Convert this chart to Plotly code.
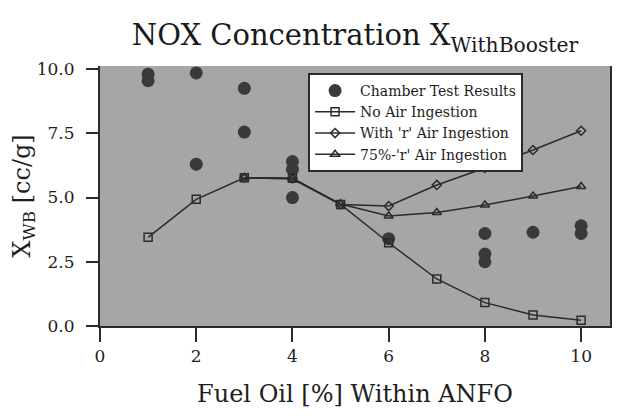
import plotly.graph_objects as go

# ── Data ────────────────────────────────────────────────────────
chamber_x = [1, 1, 2, 2, 3, 3, 4, 4, 4, 6, 8, 8, 8, 9, 10, 10]
chamber_y = [9.8, 9.55, 9.85, 6.3, 9.25, 7.55, 6.4, 6.1, 5.0, 3.4, 3.6, 2.8, 2.5, 3.65, 3.9, 3.6]

no_air_x = [1, 2, 3, 4, 5, 6, 7, 8, 9, 10]
no_air_y = [3.45, 4.93, 5.77, 5.75, 4.73, 3.24, 1.83, 0.91, 0.43, 0.22]

with_r_x = [3, 4, 5, 6, 7, 8, 9, 10]
with_r_y = [5.77, 5.75, 4.73, 4.67, 5.49, 6.15, 6.85, 7.6]

r75_x = [3, 4, 5, 6, 7, 8, 9, 10]
r75_y = [5.77, 5.72, 4.75, 4.28, 4.42, 4.71, 5.06, 5.43]

x_ticks = [0, 2, 4, 6, 8, 10]
y_ticks = [0, 2.5, 5, 7.5, 10]
y_tick_labels = ["0.0", "2.5", "5.0", "7.5", "10.0"]

FONT = "DejaVu Serif"
INK = "#2b2b2b"

fig = go.Figure()

fig.add_trace(go.Scatter(
    x=chamber_x, y=chamber_y, mode="markers", name="Chamber Test Results",
    marker=dict(symbol="circle", size=13, color="#3a3a3a"),
))
fig.add_trace(go.Scatter(
    x=no_air_x, y=no_air_y, mode="lines+markers", name="No Air Ingestion",
    line=dict(color=INK, width=1.5),
    marker=dict(symbol="square-open", size=8, color=INK, line=dict(width=1.5)),
))
fig.add_trace(go.Scatter(
    x=with_r_x, y=with_r_y, mode="lines+markers", name="With 'r' Air Ingestion",
    line=dict(color=INK, width=1.5),
    marker=dict(symbol="diamond-open", size=7, color=INK, line=dict(width=1.5)),
))
fig.add_trace(go.Scatter(
    x=r75_x, y=r75_y, mode="lines+markers", name="75%-'r' Air Ingestion",
    line=dict(color=INK, width=1.5),
    marker=dict(symbol="triangle-up-open", size=8, color=INK, line=dict(width=1.5)),
))

# page body adds ~8px offset, so the figure is sized 8px smaller
fig.update_layout(
    width=617, height=408,
    margin=dict(l=92, r=15, t=58, b=90, autoexpand=False),
    paper_bgcolor="white",
    plot_bgcolor="#a6a6a6",
    font=dict(family=FONT, color="#1e1e1e", size=14),
    title=dict(
        text="NOX Concentration X<sub>WithBooster</sub>",
        x=0.5, xref="paper", xanchor="center", y=0.933, yanchor="middle",
        font=dict(family=FONT, size=29, color="#1a1a1a"),
    ),
    legend=dict(
        x=0.408, y=0.973, xanchor="left", yanchor="top",
        bgcolor="white", bordercolor=INK, borderwidth=2,
        font=dict(family=FONT, size=14, color="#1e1e1e"),
        tracegroupgap=0, itemwidth=40,
    ),
    showlegend=True,
)

fig.update_xaxes(
    range=[0, 10.6], tickvals=x_ticks, ticks="outside", ticklen=14,
    tickwidth=2, tickcolor=INK, showgrid=False, zeroline=False,
    showline=True, linecolor=INK, linewidth=2, automargin=False,
    tickfont=dict(family=FONT, size=17),
    title=dict(text="Fuel Oil [%] Within ANFO", font=dict(family=FONT, size=24), standoff=20),
)
fig.update_yaxes(
    range=[0, 10.12], tickvals=y_ticks, ticktext=y_tick_labels,
    ticks="outside", ticklen=12, tickwidth=2, tickcolor=INK,
    ticklabelstandoff=8,
    showgrid=False, zeroline=False, automargin=False,
    showline=True, linecolor=INK, linewidth=2, mirror=True,
    tickfont=dict(family=FONT, size=17),
    title=dict(text="X<sub>WB</sub> [cc/g]", font=dict(family=FONT, size=24), standoff=12),
)

fig.write_html("out.html")
